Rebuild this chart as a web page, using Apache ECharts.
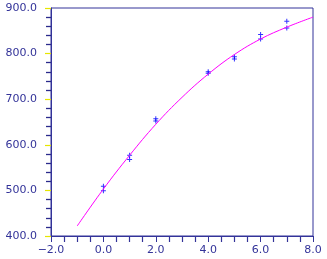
<!DOCTYPE html>
<html><head><meta charset="utf-8">
<script src="https://cdn.jsdelivr.net/npm/echarts@6/dist/echarts.min.js"></script>
<style>html,body{margin:0;padding:0;background:#fff}#c{width:327px;height:259px}</style>
</head><body><div id="c"></div>
<script>
// measured points (x, y)
var pointX = [0, 0, 1, 1, 2, 2, 4, 4, 5, 5, 6, 6, 7, 7];
var pointY = [509, 499, 577, 568, 657, 652, 760, 757, 793, 788, 842, 832, 871, 856];
// fitted curve
var curveX = [-1, 0, 1, 2, 3, 4, 5, 6, 7, 8];
var curveY = [422, 503, 577, 645, 704, 755, 798, 832, 858, 880];
var xTicks = [-2, 0, 2, 4, 6, 8];
var yTicks = [400, 500, 600, 700, 800, 900];

var navy = '#333399';
var chart = echarts.init(document.getElementById('c'), null, {renderer: 'canvas'});
function fmt(v) { return v.toFixed(1).replace('-', '\u2212'); }
var yMin = yTicks[0], yMax = yTicks[yTicks.length - 1];
chart.setOption({
  animation: false,
  backgroundColor: '#fff',
  grid: {left: 51, right: 14, top: 8, bottom: 23, show: true, borderColor: navy, borderWidth: 1, backgroundColor: 'transparent'},
  xAxis: {
    type: 'value', min: xTicks[0], max: xTicks[xTicks.length - 1], interval: 2,
    axisLine: {show: true, onZero: false, lineStyle: {color: navy, width: 1}},
    axisTick: {show: true, inside: false, length: 6, lineStyle: {color: navy}},
    minorTick: {show: true, splitNumber: 4, length: 6, lineStyle: {color: navy, width: 1.2}},
    splitLine: {show: false},
    axisLabel: {color: navy, fontFamily: 'DejaVu Sans', fontSize: 11, margin: 9, formatter: fmt}
  },
  yAxis: {
    type: 'value', min: yMin, max: yMax, interval: 100,
    axisLine: {show: true, onZero: false, lineStyle: {color: navy, width: 1}},
    axisTick: {show: true, inside: false, length: 6, lineStyle: {color: '#e6e600', width: 1.2}},
    minorTick: {show: true, splitNumber: 5, length: 5, lineStyle: {color: '#2a2a8c', width: 1.3}},
    splitLine: {show: false},
    axisLabel: {color: navy, fontFamily: 'DejaVu Sans', fontSize: 11, margin: 14, formatter: fmt}
  },
  series: [
    {
      type: 'line', smooth: 0.4, showSymbol: false, symbol: 'none',
      data: curveX.map(function (x, i) { return [x, curveY[i]]; }),
      lineStyle: {color: '#ff00ff', width: 1}
    },
    {
      type: 'scatter',
      symbol: 'path://M0,2H5V3H0Z M2,0H3V5H2Z', symbolSize: 5,
      itemStyle: {color: '#0000ff'},
      data: pointX.map(function (x, i) { return [x, pointY[i]]; })
    }
  ]
});
</script></body></html>
